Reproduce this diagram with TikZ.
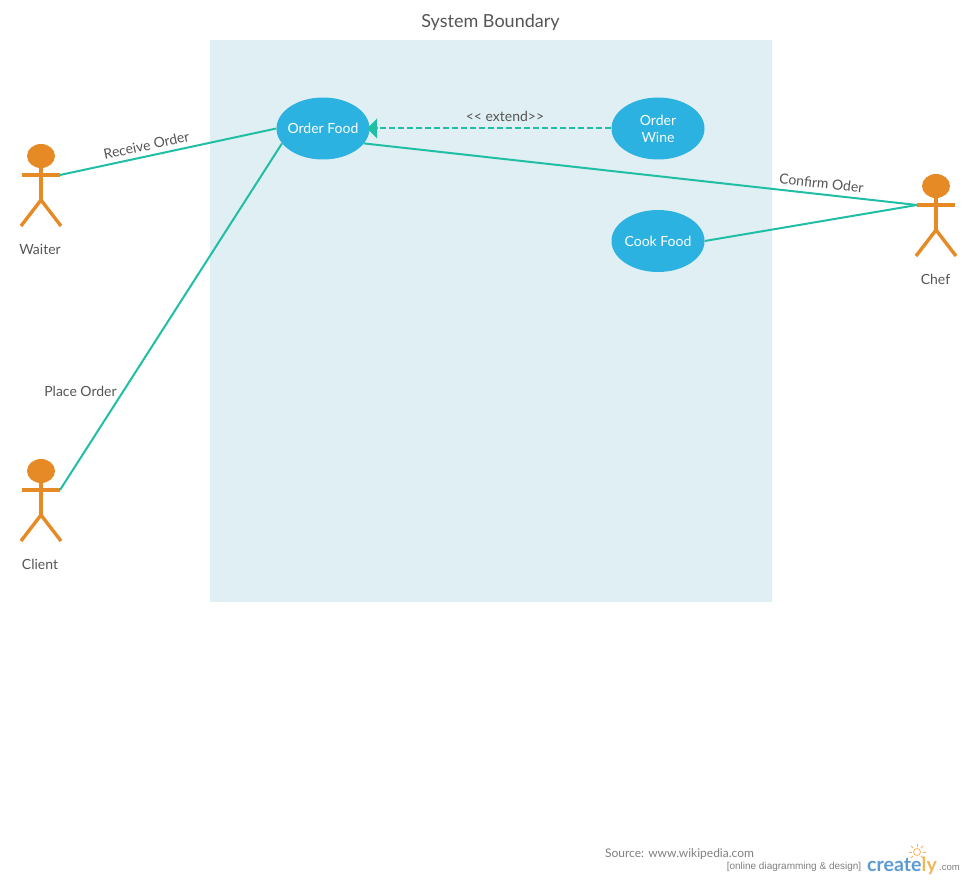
\documentclass[tikz,border=0pt]{standalone}
\usepackage{fontspec}
\setmainfont{Lato}
\newfontfamily\arialfont{Liberation Sans}
\usepackage{xcolor}
\usetikzlibrary{arrows.meta, positioning, shapes.geometric}

\definecolor{boundaryfill}{HTML}{E0EFF3}
\definecolor{usecasefill}{HTML}{2BB2E0}
\definecolor{linkcolor}{HTML}{20BFA5}
\definecolor{actorcolor}{HTML}{E68A25}
\definecolor{labelcolor}{HTML}{555555}
\definecolor{logoblue}{HTML}{5B9BD5}
\definecolor{logoyellow}{HTML}{F0B65A}

\tikzset{
    usecase/.style={ellipse, fill=usecasefill, text=white, minimum width=93pt, minimum height=62pt,
        inner sep=-8pt, align=center, font=\fontsize{14}{17}\selectfont},
    actorhead/.style={ellipse, fill=actorcolor, minimum width=28pt, minimum height=24pt, inner sep=0pt},
    actorline/.style={draw=actorcolor, line width=3.4pt},
    actorname/.style={text=labelcolor, font=\fontsize{14}{16}\selectfont},
    link/.style={draw=linkcolor, line width=2pt},
    linklabel/.style={text=labelcolor, inner sep=2pt, font=\fontsize{14}{16}\selectfont}
}

\begin{document}
\begin{tikzpicture}[x=1pt, y=-1pt]
    \useasboundingbox (0,0) rectangle (965,882);

    % Boundary
    \fill[boundaryfill] (210,40) rectangle (772,602);
    \node[text=labelcolor, font=\fontsize{18}{20}\selectfont] (boundarytitle) at (490.5,22) {System Boundary};

    % Use cases
    \node[usecase] (orderfood) at (323,128.5) {\raisebox{-1pt}{Order Food}};
    \node[usecase] (orderwine) at (658,128.5) {Order\\Wine};
    \node[usecase] (cookfood) at (658,241) {Cook Food};

    % Waiter
    \node[actorhead] (waiterhead) at (41,156) {};
    \coordinate (waiterhip) at (41,200);
    \coordinate (waiterhand) at (60,175);
    \draw[actorline] (waiterhead) -- (waiterhip);
    \draw[actorline] (22,175) -- (waiterhand);
    \draw[actorline] (21,226) -- (waiterhip) -- (61,226);
    \node[actorname] (waitername) at (40,249) {Waiter};

    % Client
    \node[actorhead] (clienthead) at (41,471) {};
    \coordinate (clienthip) at (41,515);
    \coordinate (clienthand) at (60,490);
    \draw[actorline] (clienthead) -- (clienthip);
    \draw[actorline] (22,490) -- (clienthand);
    \draw[actorline] (21,541) -- (clienthip) -- (61,541);
    \node[actorname] (clientname) at (40,564) {Client};

    % Chef
    \node[actorhead] (chefhead) at (936,186) {};
    \coordinate (chefhip) at (936,230);
    \coordinate (chefhand) at (917,205);
    \draw[actorline] (chefhead) -- (chefhip);
    \draw[actorline] (chefhand) -- (955,205);
    \draw[actorline] (916,256) -- (chefhip) -- (956,256);
    \node[actorname] (chefname) at (935.5,279) {Chef};

    % Links
    \draw[link] (waiterhand) -- node[linklabel, sloped, above, pos=0.41, yshift=2.5pt] {Receive Order} (orderfood.west);
    \draw[link] (clienthand) -- (orderfood.200);
    \draw[link] (orderfood.340) -- node[linklabel, sloped, above, pos=0.825, yshift=3pt] {Confirm Oder} (chefhand);
    \draw[link] (cookfood.east) -- (chefhand);
    \draw[link, dash pattern=on 6pt off 3pt, shorten >=-2.5pt, -{Triangle[length=10pt, width=20pt, fill=linkcolor]}]
        (orderwine.west) -- node[linklabel, above, pos=0.44, yshift=4pt, font=\fontsize{14}{16}\selectfont] {<{}< extend>{}>} (orderfood.east);
    \node[linklabel] (placeorder) at (80.5,391) {Place Order};

    % Source and logo
    \node[text=gray, font=\fontsize{12}{14}\selectfont] (source) at (679.5,854.5) {Source: www.wikipedia.com};
    \node[text=gray, font=\arialfont\fontsize{10}{11}\selectfont] (tagline) at (794,867) {[online diagramming \& design]};
    \node[inner sep=0pt, text=logoblue, font=\bfseries\fontsize{19.6}{25}\selectfont] (logo) at (902,866) {create\textcolor{logoyellow}{ly}};
    \node[inner sep=0pt, text=gray, font=\arialfont\fontsize{9.5}{11}\selectfont] (logodomain) at (949.5,868) {.com};
    \node[circle, draw=logoyellow, line width=0.8pt, minimum size=7pt, inner sep=0pt] (logosun) at (917,852) {};
    \foreach \a in {0,45,135,180,225,315}
        \draw[logoyellow, line width=0.8pt] (917,852) ++(\a:5.5) -- ++(\a:3);
    \draw[logoyellow, line width=0.8pt] (917,844) -- (917,847);
\end{tikzpicture}
\end{document}
